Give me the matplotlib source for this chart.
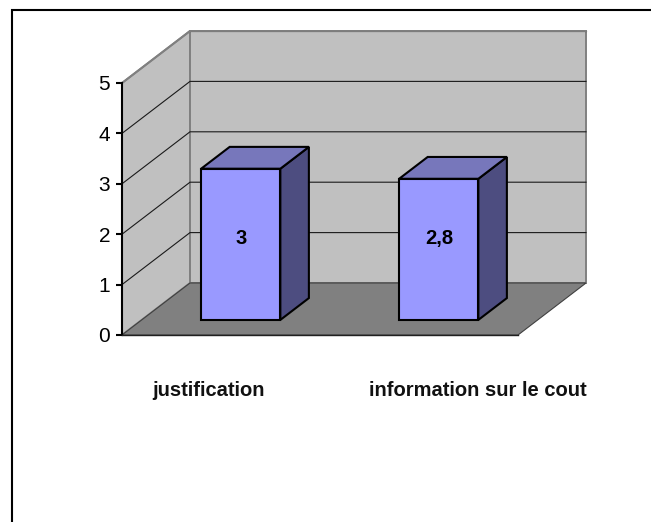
import matplotlib
matplotlib.use("Agg")
import matplotlib.pyplot as plt
from matplotlib.lines import Line2D
from matplotlib.patches import Polygon

categories = ["justification", "information sur le cout"]
values = [3, 2.8]
value_labels = ["3", "2,8"]
y_ticks = [0, 1, 2, 3, 4, 5]

W, H = 651, 522
plt.rcParams["font.family"] = ["Liberation Sans", "DejaVu Sans"]

# the depth of the fake 3d box, in axis units
DX = 68 / 198
DY = 52 / 50.4
BAR_W = 0.4
Z0, Z1 = 0.29, 0.71


def project(x, y, z):
    return (x + z * DX, y + z * DY)


def face(ax, pts, color, edge, lw, zorder):
    ax.add_patch(Polygon([project(*p) for p in pts], closed=True, facecolor=color,
                         edgecolor=edge, lw=lw, zorder=zorder, clip_on=False,
                         joinstyle="miter"))


fig = plt.figure(figsize=(W / 100, H / 100), dpi=100)
ax = fig.add_axes([122 / W, (H - 335) / H, 396 / W, 252 / H])
ax.set_xlim(0, 2)
ax.set_ylim(0, 5)
ax.patch.set_alpha(0)

# Walls and floor
face(ax, [(0, 0, 0), (0, 5, 0), (0, 5, 1), (0, 0, 1)], "#c0c0c0", "#808080", 1.4, 1)
face(ax, [(0, 0, 1), (0, 5, 1), (2, 5, 1), (2, 0, 1)], "#c0c0c0", "#808080", 1.4, 1)
face(ax, [(0, 0, 0), (0, 0, 1), (2, 0, 1), (2, 0, 0)], "#808080", "#404040", 0.8, 2)

# Gridlines
for t in y_ticks[1:-1] + [5]:
    xs, ys = zip(project(0, t, 0), project(0, t, 1), project(2, t, 1))
    if t == 5:
        xs, ys = xs[1:], ys[1:]
    ax.plot(xs, ys, color="#1a1a1a", lw=0.8, zorder=3, clip_on=False, solid_joinstyle="miter")
# top of the back wall and side wall stay grey
xs, ys = zip(project(0, 5, 0), project(0, 5, 1), project(2, 5, 1))
ax.plot(xs, ys, color="#808080", lw=1.4, zorder=3, clip_on=False)

# Bars
for i, v in enumerate(values):
    x0 = i + 0.5 - BAR_W / 2
    x1 = i + 0.5 + BAR_W / 2
    face(ax, [(x1, 0, Z0), (x1, 0, Z1), (x1, v, Z1), (x1, v, Z0)], "#4d4d80", "black", 1.5, 5)
    face(ax, [(x0, v, Z0), (x0, v, Z1), (x1, v, Z1), (x1, v, Z0)], "#7777bb", "black", 1.5, 5)
    face(ax, [(x0, 0, Z0), (x1, 0, Z0), (x1, v, Z0), (x0, v, Z0)], "#9999ff", "black", 1.5, 6)
    # both labels sit at the same height in the picture
    cx, cy = project(i + 0.5, 1.62, Z0)
    ax.text(cx + 0.002, cy, value_labels[i], ha="center", va="center", fontsize=14.5,
            fontweight="bold", color="black", zorder=7)

# Axis
for s in ["top", "right"]:
    ax.spines[s].set_visible(False)
ax.spines["bottom"].set_color("#202020")
ax.spines["bottom"].set_linewidth(1)
ax.spines["bottom"].set_zorder(4)
ax.spines["left"].set_linewidth(1.5)
ax.spines["left"].set_zorder(4)
ax.set_xticks([])
ax.set_yticks(y_ticks)
ax.tick_params(axis="y", length=4.5, width=1.5, pad=4, labelsize=15)

# Category labels
for x, name in zip([0.437, 1.795], categories):
    ax.text(x, -1.21, name, ha="center", va="baseline", fontsize=14.5, fontweight="bold",
            color="#111111")

# Frame of the picture, open at right and bottom
fig.add_artist(Line2D([11.5 / W, 11.5 / W, 1], [0, 1 - 9.5 / H, 1 - 9.5 / H],
                      color="black", lw=1.5, solid_joinstyle="miter"))

fig.savefig("out.png", dpi=100)
